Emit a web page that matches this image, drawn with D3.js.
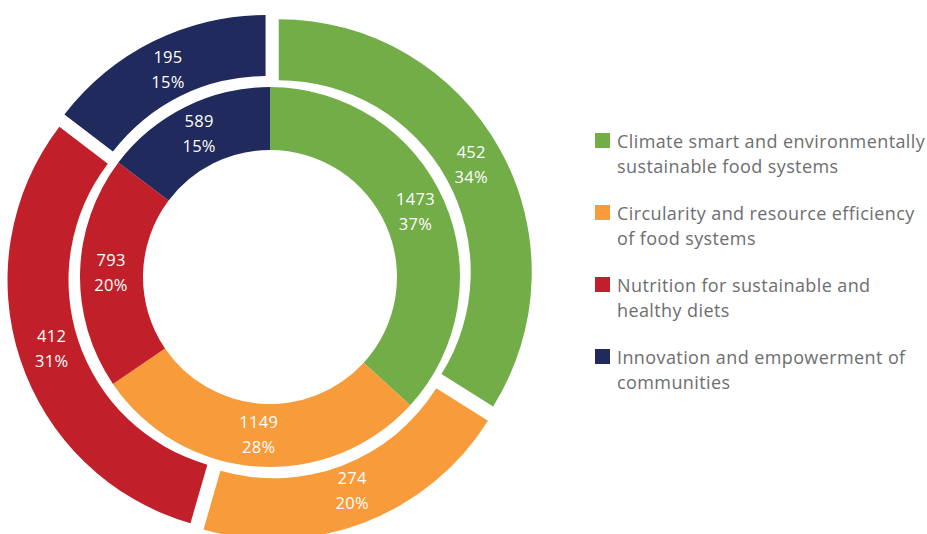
<!DOCTYPE html>
<html>
<head>
<meta charset="utf-8">
<script src="https://cdn.jsdelivr.net/npm/d3@7"></script>
<style>
  html, body { margin: 0; padding: 0; background: #fff; }
  svg { display: block; }
  text { font-family: "Open Sans", "Noto Sans", sans-serif; }
</style>
</head>
<body>
<svg id="chart" width="927" height="534"></svg>
<script>
// Categories and the two rings of the chart
const categories = [
  "Climate smart and environmentally sustainable food systems",
  "Circularity and resource efficiency of food systems",
  "Nutrition for sustainable and healthy diets",
  "Innovation and empowerment of communities"
];
const legendLines = [
  ["Climate smart and environmentally", "sustainable food systems"],
  ["Circularity and resource efficiency", "of food systems"],
  ["Nutrition for sustainable and", "healthy diets"],
  ["Innovation and empowerment of", "communities"]
];
const colors = ["#72ad48", "#f79b3b", "#c1202a", "#212a5c"];

// Inner ring values and shares
const innerValues = [1473, 1149, 793, 589];
const innerPercents = ["37%", "28%", "20%", "15%"];
// Outer ring values and shares
const outerValues = [452, 274, 412, 195];
const outerPercents = ["34%", "20%", "31%", "15%"];

const svg = d3.select("#chart");
const cx = 270, cy = 277;

const pie = d3.pie().sort(null).value(d => d);

const innerArc = d3.arc().innerRadius(127).outerRadius(190);
const outerArc = d3.arc().innerRadius(192).outerRadius(253);
const explode = 10;

const g = svg.append("g").attr("transform", `translate(${cx},${cy})`);

// Inner ring
const innerData = pie(innerValues);
g.selectAll("path.inner")
  .data(innerData)
  .join("path")
  .attr("class", "inner")
  .attr("d", innerArc)
  .attr("fill", (d, i) => colors[i]);

// Outer ring, each slice pushed out along its mid angle
const outerData = pie(outerValues);
const offset = d => {
  const a = (d.startAngle + d.endAngle) / 2;
  return [Math.sin(a) * explode, -Math.cos(a) * explode];
};
g.selectAll("path.outer")
  .data(outerData)
  .join("path")
  .attr("class", "outer")
  .attr("transform", d => `translate(${offset(d)})`)
  .attr("d", outerArc)
  .attr("fill", (d, i) => colors[i]);

// Value labels
function addLabels(data, values, percents, radius, extra, gap) {
  const lab = g.selectAll(null)
    .data(data)
    .join("text")
    .attr("text-anchor", "middle")
    .attr("fill", "#fff")
    .attr("font-size", 16.5)
    .attr("letter-spacing", 0.3)
    .attr("transform", d => {
      const a = (d.startAngle + d.endAngle) / 2;
      const r = radius + extra;
      return `translate(${Math.sin(a) * r},${-Math.cos(a) * r})`;
    });
  lab.append("tspan").attr("x", 0).attr("y", -gap / 2 + 5).text((d, i) => values[i]);
  lab.append("tspan").attr("x", 0).attr("y", gap / 2 + 5).text((d, i) => percents[i]);
}
addLabels(innerData, innerValues, innerPercents, 159, 0, 25);
addLabels(outerData, outerValues, outerPercents, 222, 8, 25);

// Legend
const legend = svg.append("g").attr("transform", "translate(595,133)");
const item = legend.selectAll("g")
  .data(categories)
  .join("g")
  .attr("transform", (d, i) => `translate(0,${i * 72})`);
item.append("rect")
  .attr("width", 15).attr("height", 15)
  .attr("fill", (d, i) => colors[i]);
item.append("text")
  .attr("fill", "#6d6e70")
  .attr("font-size", 18)
  .attr("letter-spacing", 0.4)
  .selectAll("tspan")
  .data((d, i) => legendLines[i])
  .join("tspan")
  .attr("x", 22)
  .attr("y", (d, j) => 15 + j * 25)
  .text(d => d);
</script>
</body>
</html>
